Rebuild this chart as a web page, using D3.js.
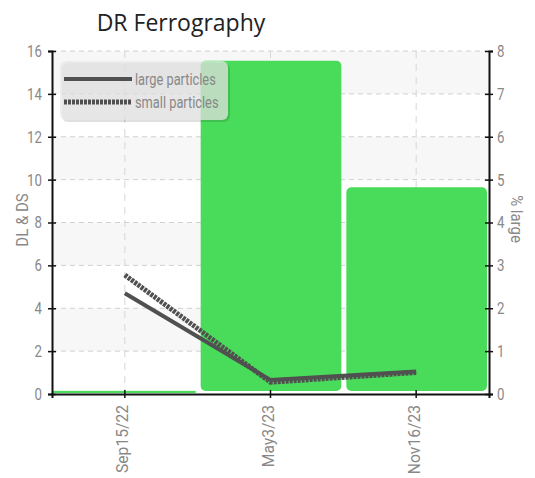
<!DOCTYPE html>
<html><head><meta charset="utf-8">
<script src="https://cdn.jsdelivr.net/npm/d3@7"></script>
<style>
body{margin:0;background:#fff;}
text{font-family:Roboto,"DejaVu Sans",sans-serif;}
</style></head>
<body><svg id="c" width="535" height="478"></svg>
<script>
const categories = ["Sep15/22","May3/23","Nov16/23"];
const largeParticles = [4.7, 0.65, 1.05];
const smallParticles = [5.55, 0.55, 1.0];
const percentLarge = [0.05, 7.75, 4.8];
const leftTicks = [0,2,4,6,8,10,12,14,16];
const rightTicks = [0,1,2,3,4,5,6,7,8];

const svg = d3.select("#c");
const L = 52, R = 489, T = 51, B = 394;
const x = d3.scaleBand().domain(categories).range([L, R]).padding(0);
const yL = d3.scaleLinear().domain([0,16]).range([B, T]);
const yR = d3.scaleLinear().domain([0,8]).range([B, T]);
const cx = d => x(d) + x.bandwidth()/2;

// title
svg.append("text").attr("x", 181).attr("y", 31).attr("text-anchor","middle")
  .style("font-family","'Open Sans',sans-serif").style("font-size","23px").attr("fill","#222")
  .text("DR Ferrography");

// background stripes
for (let i = 0; i < leftTicks.length - 1; i++) {
  if (i % 2 === 1) {
    svg.append("rect").attr("x", L).attr("width", R - L)
      .attr("y", yL(leftTicks[i+1])).attr("height", yL(leftTicks[i]) - yL(leftTicks[i+1]))
      .attr("fill", "#f7f7f7");
  }
}
// grid
leftTicks.filter(t => t > 0).forEach(t => {
  svg.append("line").attr("x1", L).attr("x2", R).attr("y1", yL(t)).attr("y2", yL(t))
    .attr("stroke","#d0d0d0").attr("stroke-dasharray","5,4");
});
categories.forEach(c => {
  svg.append("line").attr("x1", cx(c)).attr("x2", cx(c)).attr("y1", T).attr("y2", B)
    .attr("stroke","#d6d6d6").attr("stroke-dasharray","7,6");
});

// bars
svg.append("g").selectAll("rect").data(categories).join("rect")
  .attr("x", d => x(d) + (d === categories[0] ? 1 : 3))
  .attr("width", d => x.bandwidth() - (d === categories[0] ? 3 : 5))
  .attr("y", (d,i) => yR(percentLarge[i]) - 1)
  .attr("height", (d,i) => Math.max(2, yR(0) - yR(percentLarge[i]) - (i === 0 ? 0 : 2)))
  .attr("rx", (d,i) => i === 0 ? 0 : 5)
  .attr("fill", "#49dc5a");

// lines
const line = d3.line().x((d,i) => cx(categories[i])).y(d => yL(d));
svg.append("path").attr("d", line(smallParticles)).attr("fill","none")
  .attr("stroke","#505050").attr("stroke-width",5).attr("stroke-dasharray","3,1");
svg.append("path").attr("d", line(largeParticles)).attr("fill","none")
  .attr("stroke","#505050").attr("stroke-width",4);

// legend
const lg = svg.append("g");
lg.append("rect").attr("x", 62).attr("y", 63).attr("width", 168).attr("height", 59).attr("rx", 6)
  .attr("fill","rgba(0,0,0,0.12)");
lg.append("rect").attr("x", 60).attr("y", 61).attr("width", 168).attr("height", 59).attr("rx", 6)
  .attr("fill","rgba(232,232,232,0.72)");
lg.append("line").attr("x1",64).attr("x2",132).attr("y1",79).attr("y2",79)
  .attr("stroke","#505050").attr("stroke-width",4);
lg.append("line").attr("x1",64).attr("x2",132).attr("y1",102).attr("y2",102)
  .attr("stroke","#505050").attr("stroke-width",5).attr("stroke-dasharray","3,1");
lg.append("text").attr("x",135).attr("y",85).attr("fill","#888").attr("class","cond").attr("data-k","0.8").style("font-size","16px").text("large particles");
lg.append("text").attr("x",135).attr("y",108).attr("fill","#888").attr("class","cond").attr("data-k","0.8").style("font-size","16px").text("small particles");

// axes
const axL = svg.append("g").attr("transform",`translate(${L},0)`)
  .call(d3.axisLeft(yL).tickValues(leftTicks).tickSize(4).tickPadding(6));
const axR = svg.append("g").attr("transform",`translate(${R},0)`)
  .call(d3.axisRight(yR).tickValues(rightTicks).tickSize(4).tickPadding(4));
const axB = svg.append("g").attr("transform",`translate(0,${B})`)
  .call(d3.axisBottom(x).tickSize(4).tickPadding(8));
[axL, axR, axB].forEach(a => {
  a.select(".domain").attr("stroke","#111").attr("stroke-width",2);
  a.selectAll(".tick line").attr("stroke","#111").attr("stroke-width",1.5);
  a.selectAll(".tick text").attr("fill","#888").attr("class","cond").attr("data-k","0.78").style("font-size","17px")
    .style("font-family","Roboto,sans-serif");
});
axL.selectAll(".tick line").attr("x1", 4);
axR.selectAll(".tick line").attr("x1", -4);
axB.selectAll(".tick line").attr("y1", -4);
axB.selectAll(".tick text").attr("transform","rotate(-90)").attr("text-anchor","end")
  .attr("x", -11).attr("y", -2).attr("dy","0.32em").attr("data-k","0.92");

// axis titles
svg.append("text").attr("transform","translate(28,220) rotate(-90)").attr("text-anchor","middle")
  .attr("class","cond").attr("data-k","0.88").attr("fill","#888").style("font-size","17px").text("DL & DS");
svg.append("text").attr("transform","translate(511,219) rotate(90)").attr("text-anchor","middle")
  .attr("class","cond").attr("data-k","0.88").attr("fill","#888").style("font-size","17px").text("% large");

// condense text horizontally to mimic the narrow font
svg.selectAll("text.cond").each(function(){
  const k = +this.getAttribute("data-k");
  const w = this.getComputedTextLength();
  if (k !== 1) d3.select(this).attr("textLength", w * k).attr("lengthAdjust","spacingAndGlyphs");
});
</script></body></html>
